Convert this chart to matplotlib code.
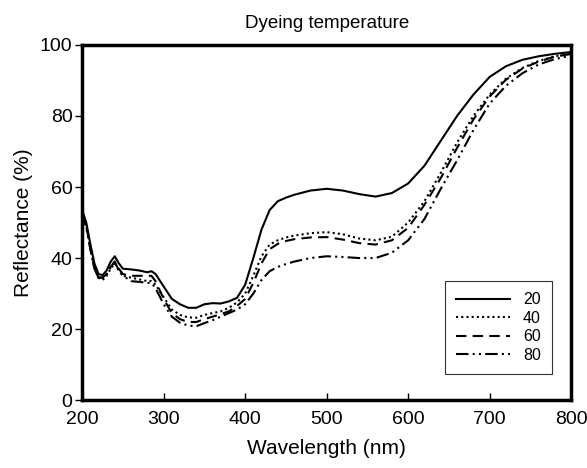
import matplotlib
matplotlib.use('Agg')
import matplotlib.pyplot as plt

plt.rcParams['font.family'] = ['Liberation Sans', 'DejaVu Sans']

# wavelength (nm)
wl = [200, 205, 210, 215, 220, 225, 230, 235, 240, 245, 250, 260, 270, 280, 285,
      290, 300, 310, 320, 330, 340, 350, 360, 370, 380, 390, 400, 410, 420, 430,
      440, 450, 460, 480, 500, 520, 540, 560, 580, 600, 620, 640, 660, 680, 700,
      720, 740, 760, 780, 800]

# reflectance (%) for each dyeing temperature
r20 = [53.5, 50, 44, 38.5, 35.5, 35.2, 36.5, 39, 40.5, 38.5, 37, 36.8, 36.5, 36, 36.3,
       35.5, 32, 28.5, 27, 26, 26, 27, 27.3, 27.2, 27.8, 28.8, 32.5, 40, 48, 53.5,
       56, 57, 57.8, 59, 59.5, 59, 58, 57.3, 58.3, 61, 66, 73, 80, 86, 91,
       94, 95.8, 96.8, 97.5, 98]
r40 = [53, 49.5, 43, 37.5, 34.5, 33.8, 35, 37, 38.5, 36.5, 35, 34.5, 34, 33.5, 33.5,
       32.5, 29, 25.5, 24, 23.3, 23.2, 24, 24.5, 25, 26, 27.5, 30, 35, 40.5, 43.8,
       45, 45.8, 46.3, 47, 47.3, 46.7, 45.5, 45, 46, 50, 56, 64, 72.5, 80, 86,
       90.5, 93.5, 95.5, 96.8, 97.5]
r60 = [53, 49, 43, 37, 34.5, 34.5, 35.5, 37.5, 39, 37, 35.5, 35, 35, 35, 35,
       33.5, 28.5, 24.5, 22.8, 22, 22, 22.8, 23.5, 24.2, 25, 26.5, 28.5, 33, 38.5, 42.5,
       44, 44.8, 45.3, 45.8, 45.9, 45.2, 44.2, 43.8, 45, 48.5, 55, 62.5, 71, 79, 85.5,
       90.2, 93.3, 95.3, 96.7, 97.5]
r80 = [52.5, 48.5, 42.5, 37, 34.5, 34.5, 35.5, 37.5, 39, 36.5, 35, 33.5, 33.3, 33, 33,
       31.5, 27, 23.5, 21.8, 21, 20.8, 21.7, 22.5, 23.5, 24.5, 25.5, 27, 30, 33.8, 36.3,
       37.5, 38.3, 39, 40, 40.5, 40.3, 40, 40, 41.5, 45, 51, 59.5, 67.5, 76, 83.5,
       88.5, 92, 94.5, 96, 97]

fig = plt.figure(figsize=(5.87, 4.68), dpi=100)
ax = fig.add_axes([0.14, 0.145, 0.833, 0.759])

ax.plot(wl, r20, color='black', lw=1.5, ls='-', label='20')
ax.plot(wl, r40, color='black', lw=1.5, ls=(0, (1, 1.5)), label='40')
ax.plot(wl, r60, color='black', lw=1.5, ls=(0, (5, 3)), label='60')
ax.plot(wl, r80, color='black', lw=1.5, ls=(0, (6, 2, 1, 2, 1, 2)), label='80')

ax.set_xlim(200, 800)
ax.set_ylim(0, 100)
ax.set_xticks(range(200, 801, 100))
ax.set_yticks(range(0, 101, 20))
ax.tick_params(axis='x', direction='in', length=5, width=1, labelsize=14, pad=8)
ax.tick_params(axis='y', direction='out', length=5, width=1, labelsize=14, pad=2)
for s in ax.spines.values():
    s.set_linewidth(2.5)

ax.set_xlabel('Wavelength (nm)', fontsize=15, labelpad=8)
ax.set_ylabel('Reflectance (%)', fontsize=15, labelpad=5)
ax.set_title('Dyeing temperature', fontsize=13.5, pad=12)

leg = ax.legend(loc='lower right', bbox_to_anchor=(0.961, 0.074), fontsize=11.5,
                frameon=True, fancybox=False, handlelength=3.4, borderpad=0.7,
                labelspacing=0.22, handletextpad=0.8, borderaxespad=0)
leg.get_frame().set_edgecolor('black')
leg.get_frame().set_linewidth(0.8)

fig.savefig('out.png', dpi=100)
